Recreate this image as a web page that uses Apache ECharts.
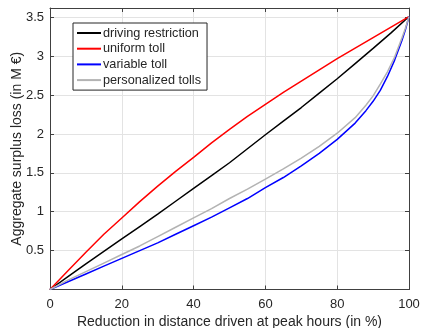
<!DOCTYPE html>
<html>
<head>
<meta charset="utf-8">
<script src="https://cdn.jsdelivr.net/npm/echarts@6/dist/echarts.min.js"></script>
<style>html,body{margin:0;padding:0;background:#fff}#c{width:422px;height:328px}</style>
</head>
<body>
<div id="c"></div>
<script>
const seriesNames = ['driving restriction', 'uniform toll', 'variable toll', 'personalized tolls'];
const xTicks = [0, 20, 40, 60, 80, 100];
const yTicks = [0.5, 1, 1.5, 2, 2.5, 3, 3.5];

const drivingX = [0, 5, 10, 15, 20, 25, 30, 35, 40, 45, 50, 55, 60, 65, 70, 75, 80, 85, 90, 95, 100];
const drivingY = [0, 0.165, 0.33, 0.49, 0.65, 0.81, 0.97, 1.135, 1.30, 1.465, 1.63, 1.81, 1.99, 2.165, 2.34, 2.525, 2.71, 2.905, 3.10, 3.30, 3.51];

const uniformX = [0, 5, 10, 15, 20, 25, 30, 35, 40, 45, 50, 55, 60, 65, 70, 75, 80, 85, 90, 95, 100];
const uniformY = [0, 0.24, 0.48, 0.71, 0.92, 1.13, 1.33, 1.52, 1.70, 1.885, 2.06, 2.225, 2.38, 2.535, 2.68, 2.825, 2.97, 3.105, 3.24, 3.375, 3.51];

const variableX = [0, 5, 10, 15, 20, 25, 30, 35, 40, 45, 50, 55, 60, 65, 70, 75, 80, 85, 88, 90, 92, 94, 96, 98, 99, 100];
const variableY = [0, 0.10, 0.20, 0.30, 0.40, 0.50, 0.60, 0.71, 0.82, 0.93, 1.05, 1.17, 1.31, 1.44, 1.59, 1.75, 1.93, 2.14, 2.30, 2.42, 2.56, 2.74, 2.95, 3.20, 3.34, 3.51];

const personalX = [0, 5, 10, 15, 20, 25, 30, 35, 40, 45, 50, 55, 60, 65, 70, 75, 80, 85, 88, 90, 92, 94, 96, 98, 99, 100];
const personalY = [0, 0.12, 0.23, 0.34, 0.45, 0.56, 0.68, 0.80, 0.92, 1.04, 1.17, 1.29, 1.42, 1.55, 1.69, 1.84, 2.01, 2.21, 2.37, 2.49, 2.64, 2.80, 2.99, 3.23, 3.36, 3.51];

const colors = ['#000000', '#ff0000', '#0000ff', '#b3b3b3'];
const zip = (xs, ys) => xs.map((x, i) => [x, ys[i]]);
const seriesData = [zip(drivingX, drivingY), zip(uniformX, uniformY), zip(variableX, variableY), zip(personalX, personalY)];

const axisColor = '#404040';
const textColor = '#262626';
const font = 'Liberation Sans, Arial, Helvetica, sans-serif';

const chart = echarts.init(document.getElementById('c'), null, {renderer: 'canvas'});
chart.setOption({
  animation: false,
  backgroundColor: '#ffffff',
  textStyle: {fontFamily: font},
  grid: {left: 50, right: 13, top: 8, bottom: 38.5, containLabel: false, outerBoundsMode: 'none'},
  legend: {
    orient: 'vertical',
    left: 73, top: 23,
    padding: [3, 6, 3, 4],
    itemGap: 1.7,
    itemWidth: 24, itemHeight: 2,
    icon: 'rect',
    borderColor: '#262626', borderWidth: 1,
    backgroundColor: '#ffffff',
    borderRadius: 0,
    textStyle: {fontSize: 12.7, color: textColor, fontFamily: font, lineHeight: 14, padding: [0, 0, 0, -3]},
    data: seriesNames.map((n, i) => ({name: n, itemStyle: {color: colors[i]}}))
  },
  xAxis: [{
    type: 'value', min: 0, max: 100, interval: 20,
    name: 'Reduction in distance driven at peak hours (in %)',
    nameLocation: 'middle', nameGap: 26, nameMoveOverlap: false,
    nameTextStyle: {fontSize: 14, color: textColor, fontFamily: font},
    axisLine: {show: true, onZero: false, lineStyle: {color: axisColor, width: 1}},
    axisTick: {show: true, inside: true, length: 4, lineStyle: {color: axisColor}},
    axisLabel: {fontSize: 13, color: textColor, margin: 8, fontFamily: font},
    splitLine: {show: true, lineStyle: {color: '#e3e3e3', width: 1}}
  }, {
    type: 'value', min: 0, max: 100, interval: 20, position: 'top',
    axisLine: {show: true, onZero: false, lineStyle: {color: axisColor, width: 1}},
    axisTick: {show: true, inside: true, length: 4, lineStyle: {color: axisColor}},
    axisLabel: {show: false}, splitLine: {show: false}
  }],
  yAxis: [{
    type: 'value', min: 0, max: 3.62, interval: 0.5,
    name: 'Aggregate surplus loss (in M €)',
    nameLocation: 'middle', nameGap: 26, nameMoveOverlap: false,
    nameTextStyle: {fontSize: 14, color: textColor, fontFamily: font},
    axisLine: {show: true, onZero: false, lineStyle: {color: axisColor, width: 1}},
    axisTick: {show: true, inside: true, length: 4, lineStyle: {color: axisColor}},
    axisLabel: {fontSize: 13, color: textColor, margin: 6, fontFamily: font,
      formatter: v => (yTicks.some(t => Math.abs(t - v) < 1e-6) ? String(v) : '')},
    splitLine: {show: true, lineStyle: {color: '#e3e3e3', width: 1}}
  }, {
    type: 'value', min: 0, max: 3.62, interval: 0.5, position: 'right',
    axisLine: {show: true, onZero: false, lineStyle: {color: axisColor, width: 1}},
    axisTick: {show: true, inside: true, length: 4, lineStyle: {color: axisColor}},
    axisLabel: {show: false}, splitLine: {show: false}
  }],
  series: seriesNames.map((n, i) => ({
    name: n, type: 'line', data: seriesData[i],
    xAxisIndex: 0, yAxisIndex: 0,
    showSymbol: false, symbol: 'none', smooth: false,
    lineStyle: {color: colors[i], width: 1.5},
    itemStyle: {color: colors[i]},
    z: 2 + i
  }))
});
</script>
</body>
</html>
